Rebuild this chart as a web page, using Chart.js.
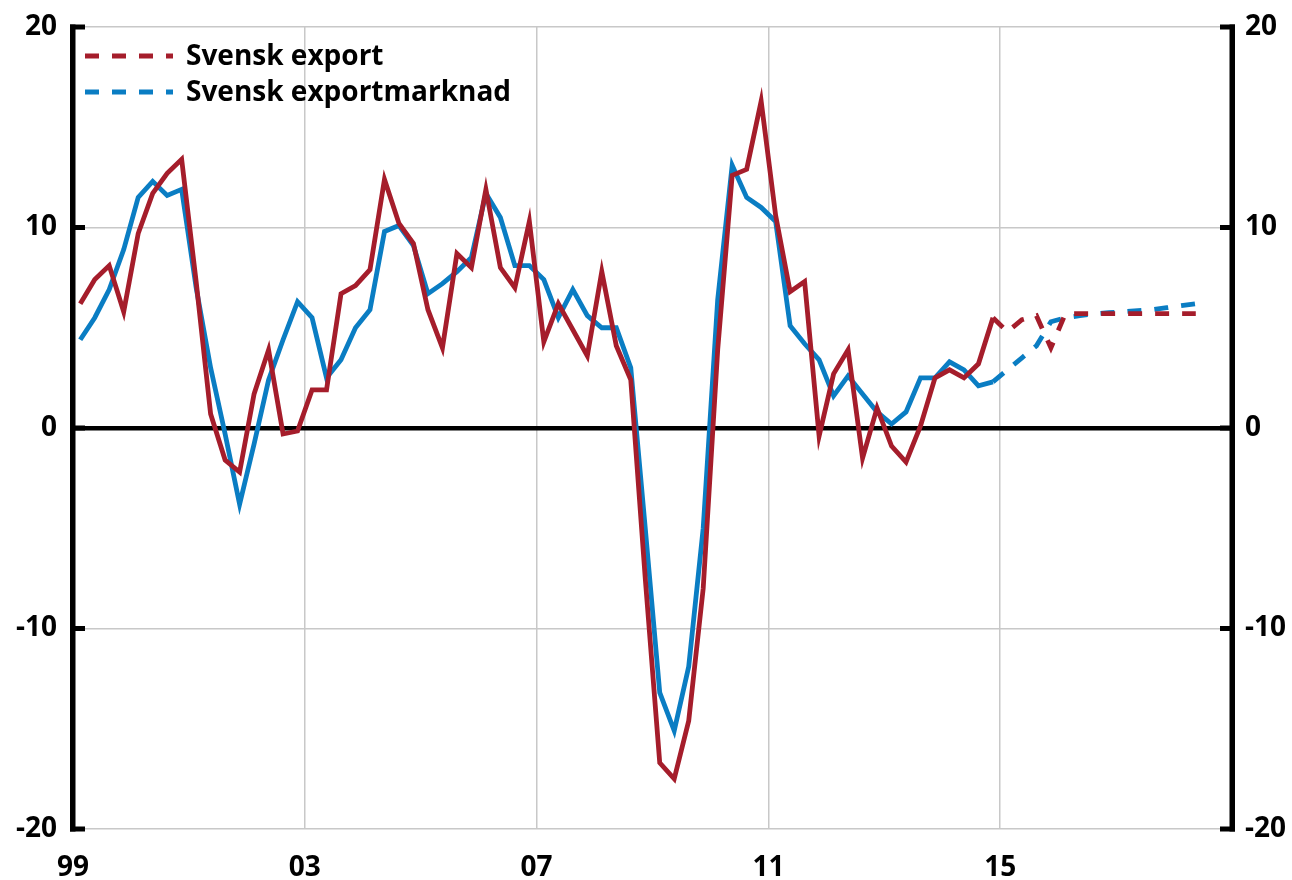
<!DOCTYPE html>
<html>
<head>
<meta charset="utf-8">
<script src="https://cdn.jsdelivr.net/npm/chart.js@4"></script>
<style>
  html, body { margin: 0; padding: 0; background: #fff; }
  #wrap { width: 1292px; height: 880px; }
</style>
</head>
<body>
<div id="wrap"><canvas id="chart" width="1292" height="880"></canvas></div>
<script>
// quarterly data, 1999Q1 = index 0
const seriesNames = ['Svensk export', 'Svensk exportmarknad'];
const xTickLabels = ['99', '03', '07', '11', '15'];
const xTickQuarters = [0, 16, 32, 48, 64];
const forecastStart = 63;

const exportActual = [
  6.2, 7.4, 8.1, 5.8, 9.7, 11.7, 12.7, 13.4, 7.3, 0.7,
  -1.6, -2.2, 1.7, 3.9, -0.3, -0.15, 1.9, 1.9, 6.7, 7.1,
  7.9, 12.4, 10.2, 9.2, 5.9, 4.0, 8.7, 8.0, 11.9, 8.0,
  7.0, 10.3, 4.3, 6.2, 4.9, 3.6, 7.8, 4.1, 2.4, -7.5,
  -16.7, -17.5, -14.6, -8.0, 3.9, 12.6, 12.9, 16.3, 10.6, 6.8,
  7.3, -0.4, 2.7, 3.9, -1.5, 1.0, -0.9, -1.7, 0.1, 2.5,
  2.9, 2.5, 3.2, 5.5
];
const exportForecast = [5.5, 4.8, 5.4, 5.6, 4.0, 5.7, 5.7, 5.7, 5.7, 5.7, 5.7, 5.7, 5.7, 5.7, 5.7];

const marketActual = [
  4.4, 5.5, 6.9, 8.9, 11.5, 12.3, 11.6, 11.9, 7.0, 3.0,
  -0.3, -3.8, -0.8, 2.4, 4.4, 6.3, 5.5, 2.5, 3.4, 5.0,
  5.9, 9.8, 10.1, 9.1, 6.7, 7.2, 7.8, 8.5, 11.7, 10.5,
  8.1, 8.1, 7.4, 5.5, 6.9, 5.6, 5.0, 5.0, 3.0, -5.0,
  -13.2, -15.1, -11.9, -5.0, 6.4, 13.1, 11.5, 11.0, 10.3, 5.1,
  4.2, 3.4, 1.6, 2.6, 1.7, 0.8, 0.2, 0.8, 2.5, 2.5,
  3.3, 2.9, 2.1, 2.3
];
const marketForecast = [2.3, 2.9, 3.5, 4.1, 5.3, 5.5, 5.6, 5.7, 5.75, 5.8, 5.85, 5.9, 6.0, 6.1, 6.2];

const RED = '#a51d2b';
const BLUE = '#0a7dc3';
const GRID = '#c8c8c8';
const FONT = '"Open Sans", "Noto Sans", sans-serif';
const dash = [14, 13];

// put each value in the middle of its quarter
const toPoints = (arr, start) => arr.map((v, i) => ({ x: start + i + 0.5, y: v }));

const lineSet = (data, color, dashed) => ({
  data: data,
  borderColor: color,
  borderWidth: 4.8,
  borderDash: dashed ? dash : [],
  pointRadius: 0,
  tension: 0,
  fill: false,
  borderCapStyle: 'butt',
  borderJoinStyle: 'miter'
});

const axesAndLegend = {
  id: 'axesAndLegend',
  afterDraw(chart) {
    const { ctx, chartArea: a, scales } = chart;
    const y = scales.y;
    ctx.save();
    ctx.fillStyle = '#000';
    ctx.fillRect(a.left - 3, a.top - 2.5, 5.5, a.bottom - a.top + 5);
    ctx.fillRect(a.right - 2.5, a.top - 2.5, 5.5, a.bottom - a.top + 5);
    y.ticks.forEach(t => {
      const py = y.getPixelForValue(t.value);
      ctx.fillRect(a.left - 3, py - 2.5, 15, 5);
      ctx.fillRect(a.right - 12, py - 2.5, 15, 5);
    });

    // legend inside the plot
    const colors = [RED, BLUE];
    const baselines = [65, 101];
    ctx.font = 'bold 28px ' + FONT;
    ctx.textBaseline = 'alphabetic';
    ctx.textAlign = 'left';
    seriesNames.forEach((name, i) => {
      const ly = baselines[i] - 9;
      ctx.strokeStyle = colors[i];
      ctx.lineWidth = 4.8;
      ctx.setLineDash(dash);
      ctx.beginPath();
      ctx.moveTo(85, ly);
      ctx.lineTo(173, ly);
      ctx.stroke();
      ctx.setLineDash([]);
      ctx.fillStyle = '#000';
      ctx.fillText(name, 186, baselines[i]);
    });
    ctx.restore();
  }
};

const xFont = { family: FONT, size: 28, weight: 'bold' };
// small line height so the y labels don't push the plot top down
const yFont = { family: FONT, size: 28, weight: 'bold', lineHeight: 0.7 };

new Chart(document.getElementById('chart'), {
  type: 'line',
  data: {
    datasets: [
      lineSet(toPoints(exportActual, 0), RED, false),
      lineSet(toPoints(exportForecast, forecastStart), RED, true),
      lineSet(toPoints(marketActual, 0), BLUE, false),
      lineSet(toPoints(marketForecast, forecastStart), BLUE, true)
    ]
  },
  options: {
    responsive: false,
    animation: false,
    layout: { padding: { top: 27, left: 0, right: 0, bottom: 0 } },
    plugins: { legend: { display: false }, tooltip: { enabled: false } },
    scales: {
      x: {
        type: 'linear',
        min: 0,
        max: 80,
        afterBuildTicks: s => { s.ticks = xTickQuarters.map(v => ({ value: v })); },
        afterFit: s => { s.height = 51; },
        grid: { color: GRID, lineWidth: 1.5, drawTicks: false },
        border: { display: false },
        ticks: {
          autoSkip: false,
          maxRotation: 0,
          padding: 22,
          color: '#000',
          font: xFont,
          callback: v => xTickLabels[xTickQuarters.indexOf(v)]
        }
      },
      y: {
        position: 'left',
        min: -20,
        max: 20,
        afterFit: s => { s.width = 73; },
        grid: {
          color: c => c.tick.value === 0 ? '#000' : GRID,
          lineWidth: c => c.tick.value === 0 ? 4.5 : 1.5,
          drawTicks: false
        },
        border: { display: false },
        ticks: { stepSize: 10, padding: 16, color: '#000', font: yFont }
      },
      y2: {
        position: 'right',
        min: -20,
        max: 20,
        afterFit: s => { s.width = 60; },
        grid: { drawOnChartArea: false, drawTicks: false },
        border: { display: false },
        ticks: { stepSize: 10, padding: 13, color: '#000', font: yFont }
      }
    }
  },
  plugins: [axesAndLegend]
});
</script>
</body>
</html>
